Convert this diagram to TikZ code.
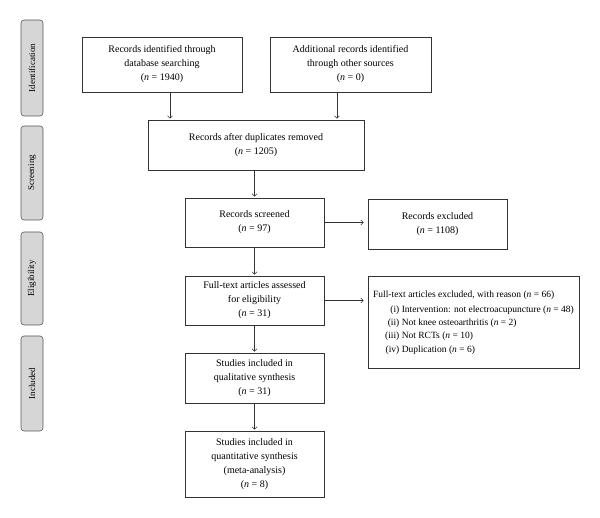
\documentclass[tikz,border=0pt]{standalone}
\usepackage{fontspec}
\setmainfont{Liberation Serif}
\usetikzlibrary{arrows.meta}
\begin{document}
\begin{tikzpicture}[x=1pt,y=-1pt,
  box/.style={draw=black!80, line width=0.6pt, align=center, inner sep=0pt, font=\fontsize{10}{14}\selectfont},
  side/.style={draw=black!65, fill=black!16, rounded corners=3pt, line width=0.6pt, minimum width=22pt, inner sep=0pt, font=\fontsize{9}{10}\selectfont},
  arr/.style={-{Straight Barb[length=2.5pt,width=5pt]}, line width=0.6pt, draw=black!80}]
\useasboundingbox (0,0) rectangle (600,518);
% side labels
\node[side, minimum height=96pt] (s1) at (32,68) {\rotatebox{90}{Identification}};
\node[side, minimum height=94pt] (s2) at (32,173) {\rotatebox{90}{Screening}};
\node[side, minimum height=93pt] (s3) at (32,278.5) {\rotatebox{90}{Eligibility}};
\node[side, minimum height=95pt] (s4) at (32,383.5) {\rotatebox{90}{Included}};
% boxes
\node[box, minimum width=160pt, minimum height=55pt] (A) at (162,64.5) {Records identified through\\database searching\\(\textit{n} = 1940)};
\node[box, minimum width=161pt, minimum height=55pt] (B) at (350.5,64.5) {Additional records identified\\through other sources\\(\textit{n} = 0)};
\node[box, minimum width=216pt, minimum height=50pt] (C) at (256,145) {Records after duplicates removed\\(\textit{n} = 1205)};
\node[box, minimum width=139pt, minimum height=49pt] (D) at (254.5,222.5) {Records screened\\(\textit{n} = 97)};
\node[box, minimum width=139pt, minimum height=50pt] (E) at (437.5,224) {Records excluded\\(\textit{n} = 1108)};
\node[box, minimum width=139pt, minimum height=49pt] (F) at (254.5,300.5) {Full-text articles assessed\\for eligibility\\(\textit{n} = 31)};
\node[box, minimum width=211pt, minimum height=92pt, font=\fontsize{9.5}{13.2}\selectfont] (G) at (473.5,322) {%
  \begin{tabular}{@{\hspace{12pt}}r@{ }l@{}}
  \multicolumn{2}{@{}l@{}}{Full-text articles excluded, with reason (\textit{n} = 66)}\\[2pt]
  (i) & Intervention: not electroacupuncture (\textit{n} = 48)\\
  (ii) & Not knee osteoarthritis (\textit{n} = 2)\\
  (iii) & Not RCTs (\textit{n} = 10)\\
  (iv) & Duplication (\textit{n} = 6)
  \end{tabular}};
\node[box, minimum width=139pt, minimum height=50pt] (H) at (254.5,378) {Studies included in\\qualitative synthesis\\(\textit{n} = 31)};
\node[box, minimum width=139pt, minimum height=66pt] (I) at (254.5,464) {Studies included in\\quantitative synthesis\\(meta-analysis)\\(\textit{n} = 8)};
% connectors
\draw[arr, shorten >=1pt] ([xshift=8pt]A.south) -- ([xshift=8pt]A.south |- C.north);
\draw[arr, shorten >=1pt] ([xshift=-13.5pt]B.south) -- ([xshift=-13.5pt]B.south |- C.north);
\draw[arr, shorten >=1pt] (D.north |- C.south) -- (D.north);
\draw[arr, shorten >=4pt] (D.east) -- (D.east -| E.west);
\draw[arr, shorten >=1pt] (D.south) -- (F.north);
\draw[arr, shorten >=4pt] (F.east) -- (F.east -| G.west);
\draw[arr, shorten >=1pt] (F.south) -- (H.north);
\draw[arr, shorten >=1pt] (H.south) -- (I.north);
\end{tikzpicture}
\end{document}
